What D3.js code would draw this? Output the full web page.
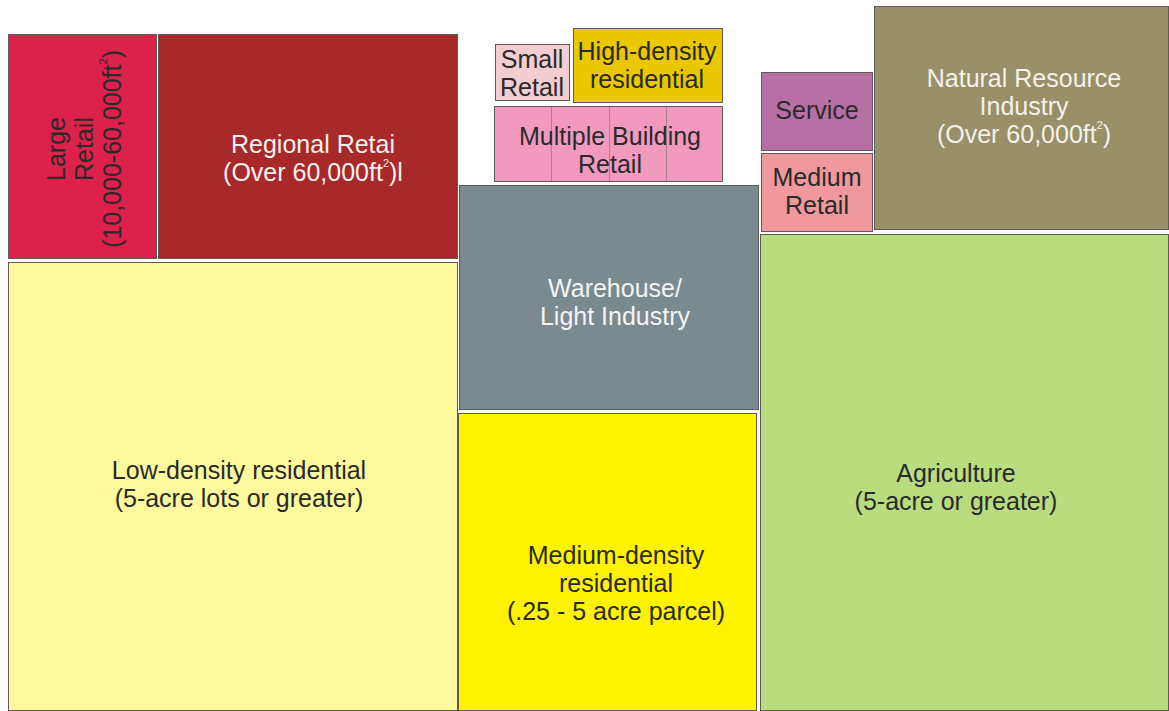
<!DOCTYPE html>
<html><head><meta charset="utf-8">
<script src="https://cdn.jsdelivr.net/npm/d3@7"></script>
<style>html,body{margin:0;padding:0;background:#fff;}svg{display:block;}</style>
</head><body>
<svg id="chart" width="1169" height="711"></svg>
<script>
// Land-use blocks (layout units, 0-1169 wide, 0-711 tall)
const names = ["Large Retail","Regional Retail","Low-density residential","Small Retail","High-density residential","Multiple Building Retail","Warehouse/Light Industry","Medium-density residential","Service","Medium Retail","Natural Resource Industry","Agriculture"];
const x0s = [8, 158, 8, 495, 573, 494, 459, 458, 761, 761, 874, 760];
const x1s = [157, 458, 458, 570, 723, 723, 759, 757, 873, 873, 1169, 1169];
const y0s = [34, 34, 262, 44, 28, 106, 185, 413, 72, 153, 6, 234];
const y1s = [259, 259, 711, 101, 103, 182, 410, 711, 151, 232, 230, 711];
const colors = ["#dc214b","#a8292a","#fef99c","#f3cdd1","#e9c800","#f29abe","#7a8a8f","#fff300","#b770a5","#f0999c","#979068","#b9dc7f"];
const textColors = ["#2a2a2a","#f4f0ee","#2a2a2a","#2a2a2a","#2a2a2a","#2a2a2a","#f4f4f4","#2a2a2a","#2a2a2a","#2a2a2a","#f4f2ea","#2a2a2a"];
// label lines; "^2" marks a superscript 2
const labelLines = [
  ["Large","Retail","(10,000-60,000ft^2)"],
  ["Regional Retai","(Over 60,000ft^2)l"],
  ["Low-density residential","(5-acre lots or greater)"],
  ["Small","Retail"],
  ["High-density","residential"],
  ["Multiple Building","Retail"],
  ["Warehouse/","Light Industry"],
  ["Medium-density","residential","(.25 - 5 acre parcel)"],
  ["Service"],
  ["Medium","Retail"],
  ["Natural Resource","Industry","(Over 60,000ft^2)"],
  ["Agriculture","(5-acre or greater)"]
];
const rotated = [true,false,false,false,false,false,false,false,false,false,false,false];
const labelCx = [84, 313, 239, 532, 647, 610, 615, 616, 817, 817, 1024, 956];
const labelCy = [149, 158, 484, 73, 65, 150, 302, 583, 110, 191, 106, 487];
// subdivisions of Multiple Building Retail
const mbrDividers = [551, 609, 666];

const W = 1169, H = 711;
const x = d3.scaleLinear().domain([0, 1169]).range([0, W]);
const y = d3.scaleLinear().domain([0, 711]).range([0, H]);
const svg = d3.select("#chart");

const data = names.map((n,i)=>({name:n,x0:x0s[i],x1:x1s[i],y0:y0s[i],y1:y1s[i],color:colors[i],tc:textColors[i],lines:labelLines[i],rot:rotated[i],cx:labelCx[i],cy:labelCy[i]}));

svg.selectAll("rect.block").data(data).join("rect")
  .attr("class","block")
  .attr("x",d=>x(d.x0)+0.5).attr("y",d=>y(d.y0)+0.5)
  .attr("width",d=>x(d.x1)-x(d.x0)-1).attr("height",d=>y(d.y1)-y(d.y0)-1)
  .attr("fill",d=>d.color).attr("stroke","#5e5a58").attr("stroke-width",1);

const mbr = data[5];
svg.selectAll("line.div").data(mbrDividers).join("line")
  .attr("x1",d=>x(d)+0.5).attr("x2",d=>x(d)+0.5)
  .attr("y1",y(mbr.y0)+1).attr("y2",y(mbr.y1)-1)
  .attr("stroke","#b07f92").attr("stroke-width",1);

const lh = 28;
data.forEach(d=>{
  const g = svg.append("g")
    .attr("transform", d.rot ? `translate(${x(d.cx)},${y(d.cy)}) rotate(-90)` : `translate(${x(d.cx)},${y(d.cy)})`);
  const n = d.lines.length;
  d.lines.forEach((ln,k)=>{
    const t = g.append("text")
      .attr("x",0).attr("y",(k-(n-1)/2)*lh)
      .attr("text-anchor","middle").attr("dominant-baseline","central")
      .attr("font-family","Liberation Sans, Arial, sans-serif")
      .attr("font-size",25).attr("fill",d.tc);
    const parts = ln.split("^2");
    t.append("tspan").text(parts[0]);
    if(parts.length>1){
      t.append("tspan").attr("font-size",11).attr("dy",-9).text("2");
      t.append("tspan").attr("dy",9).text(parts[1]);
    }
  });
});
</script>
</body></html>
